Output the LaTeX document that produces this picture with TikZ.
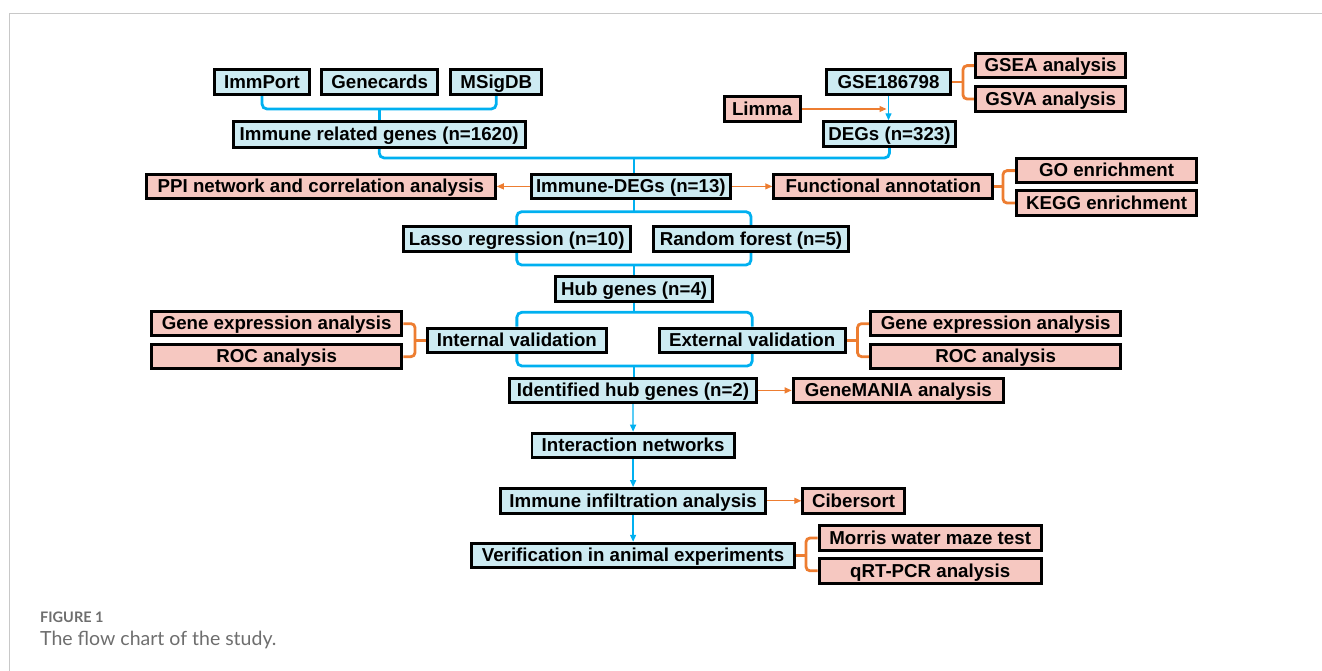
\documentclass[tikz,border=0pt]{standalone}
\usepackage{fontspec}
\setmainfont{Liberation Sans}
\newfontfamily\capfont{Lato}
\usetikzlibrary{arrows.meta,calc,backgrounds}
\definecolor{bfill}{HTML}{CDEBF2}
\definecolor{pfill}{HTML}{F6C8C1}
\definecolor{bline}{HTML}{00B0F0}
\definecolor{oline}{HTML}{ED7D31}
\definecolor{framecol}{HTML}{C8C8C8}
\definecolor{captxt}{HTML}{6E6E6E}
\begin{document}
\begin{tikzpicture}[x=1pt,y=-1pt,
  bx/.style={draw=black, line width=2.9pt, inner sep=0pt, minimum height=24.5pt,
    text height=13pt, text depth=0.5pt, font=\fontsize{18.7}{20}\selectfont\bfseries},
  bb/.style={bx, fill=bfill},
  pb/.style={bx, fill=pfill},
  bcon/.style={draw=bline, line width=2.8pt, rounded corners=5pt},
  barr/.style={draw=bline, line width=1.3pt, -{Triangle[length=7pt,width=6pt]}},
  oarr/.style={draw=oline, line width=1.2pt, -{Triangle[length=7pt,width=6pt]}},
  obr/.style={draw=oline, line width=2.8pt, rounded corners=4pt}]
\useasboundingbox (0,0) rectangle (1322,671);
\draw[framecol, line width=1pt] (9.3,671) -- (9.3,13.3) -- (1322,13.3);

% blue boxes
\node[bb, minimum width=95.2pt] (imm) at (262,82) {ImmPort};
\node[bb, minimum width=116.5pt] (gen) at (379.65,82) {Genecards};
\node[bb, minimum width=91.2pt] (msig) at (496.3,82) {MSigDB};
\node[bb, minimum width=292.2pt, minimum height=26.2pt] (irg) at (379.2,134.5) {Immune related genes (n=1620)};
\node[bb, minimum width=123.9pt] (gse) at (888.5,82) {GSE186798};
\node[bb, minimum width=132.7pt] (degs) at (889.5,134) {DEGs (n=323)};
\node[bb, minimum width=198.7pt] (idegs) at (630.85,186.4) {Immune-DEGs (n=13)};
\node[bb, minimum width=227.2pt] (lasso) at (516.7,238.9) {Lasso regression (n=10)};
\node[bb, minimum width=194.2pt] (rf) at (751,238.9) {Random forest (n=5)};
\node[bb, minimum width=156.9pt] (hub) at (634.15,288.9) {Hub genes (n=4)};
\node[bb, minimum width=178.9pt] (intv) at (516.85,340.4) {Internal validation};
\node[bb, minimum width=186.2pt] (extv) at (752.2,340.4) {External validation};
\node[bb, minimum width=246.6pt] (ihg) at (633,390.4) {Identified hub genes (n=2)};
\node[bb, minimum width=202.2pt] (inet) at (633.1,445.4) {Interaction networks};
\node[bb, minimum width=265pt] (iia) at (633.1,500.8) {Immune infiltration analysis};
\node[bb, minimum width=322.8pt] (ver) at (633.1,555.5) {Verification in animal experiments};

% pink boxes
\node[pb, minimum width=150.5pt] (gsea) at (1050.65,65.65) {GSEA analysis};
\node[pb, minimum width=150.5pt] (gsva) at (1050.65,99) {GSVA analysis};
\node[pb, minimum width=76.2pt] (limma) at (762.2,109) {Limma};
\node[pb, minimum width=348.9pt] (ppi) at (320.85,186.4) {PPI network and correlation analysis};
\node[pb, minimum width=219.2pt] (func) at (883.3,186.4) {Functional annotation};
\node[pb, minimum width=179.7pt] (go) at (1106.55,170.65) {GO enrichment};
\node[pb, minimum width=179.7pt] (kegg) at (1106.55,203) {KEGG enrichment};
\node[pb, minimum width=250.5pt] (gea1) at (276.65,323.65) {Gene expression analysis};
\node[pb, minimum width=250.5pt] (roc1) at (276.65,356.65) {ROC analysis};
\node[pb, minimum width=250.5pt] (gea2) at (995.65,323.65) {Gene expression analysis};
\node[pb, minimum width=250.5pt] (roc2) at (995.65,356.65) {ROC analysis};
\node[pb, minimum width=210.5pt] (gmania) at (898.35,390.4) {GeneMANIA analysis};
\node[pb, minimum width=101.6pt] (cib) at (853.6,500.8) {Cibersort};
\node[pb, minimum width=222.2pt] (morris) at (930.2,538) {Morris water maze test};
\node[pb, minimum width=222.2pt] (qrt) at (930.2,570.8) {qRT-PCR analysis};

% caption
\node[anchor=base west, inner sep=0pt, text=captxt, font=\capfont\bfseries\fontsize{14.5}{17}\selectfont] (figlab) at (40,622.7) {FIGURE 1};
\node[anchor=base west, inner sep=0pt, text=captxt, font=\capfont\fontsize{19.5}{23}\selectfont] (figcap) at (40,645) {The flow chart of the study.};

\begin{scope}[on background layer]
% blue brackets
\coordinate (j1) at (379.2,109);
\draw[bcon] (imm.south) |- (j1) -| (msig.south);
\draw[bcon] (j1) -- (j1 |- irg.north);
\coordinate (j2) at (634,158);
\draw[bcon] (irg.south) |- (j2) -| (degs.south);
\draw[bcon] (j2) -- (j2 |- idegs.north);
\coordinate (j3) at (634,211.7);
\draw[bcon] (j3 |- idegs.south) -- (j3);
\draw[bcon] (lasso.north) |- (j3) -| (rf.north);
\coordinate (j4) at (634,265);
\draw[bcon] (lasso.south) |- (j4) -| (rf.south);
\draw[bcon] (j4) -- (j4 |- hub.north);
\coordinate (j5) at (634,312.3);
\draw[bcon] (j5 |- hub.south) -- (j5);
\draw[bcon] (intv.north) |- (j5) -| (extv.north);
\coordinate (j6) at (634,366);
\draw[bcon] (intv.south) |- (j6) -| (extv.south);
\draw[bcon] (j6) -- (j6 |- ihg.north);

% thin blue arrows
\draw[barr] (gse.south) -- (gse.south |- degs.north);
\draw[barr] (ihg.south) -- (inet.north);
\draw[barr] (inet.south) -- (iia.north);
\draw[barr] (iia.south) -- (ver.north);

% orange arrows
\coordinate (lm) at ($(gse.south |- limma.east)+(-2,0)$);
\draw[oarr] (limma.east) -- (lm);
\draw[oarr] (idegs.west) -- (ppi.east);
\draw[oarr] (idegs.east) -- (func.west);
\draw[oarr] (ihg.east) -- (gmania.west);
\draw[oarr] (iia.east) -- (cib.west);

% orange brackets
\coordinate (s1) at (963,82);
\draw[obr] (gsea.west) -| (s1) |- (gsva.west);
\draw[obr] (gse.east) -- (s1);
\coordinate (s2) at (1003,186.4);
\draw[obr] (go.west) -| (s2) |- (kegg.west);
\draw[obr] (func.east) -- (s2);
\coordinate (s3) at (415,340.4);
\draw[obr] (gea1.east) -| (s3) |- (roc1.east);
\draw[obr] (intv.west) -- (s3);
\coordinate (s4) at (857.5,340.4);
\draw[obr] (gea2.west) -| (s4) |- (roc2.west);
\draw[obr] (extv.east) -- (s4);
\coordinate (s5) at (806,555.5);
\draw[obr] (morris.west) -| (s5) |- (qrt.west);
\draw[obr] (ver.east) -- (s5);
\end{scope}
\end{tikzpicture}
\end{document}
